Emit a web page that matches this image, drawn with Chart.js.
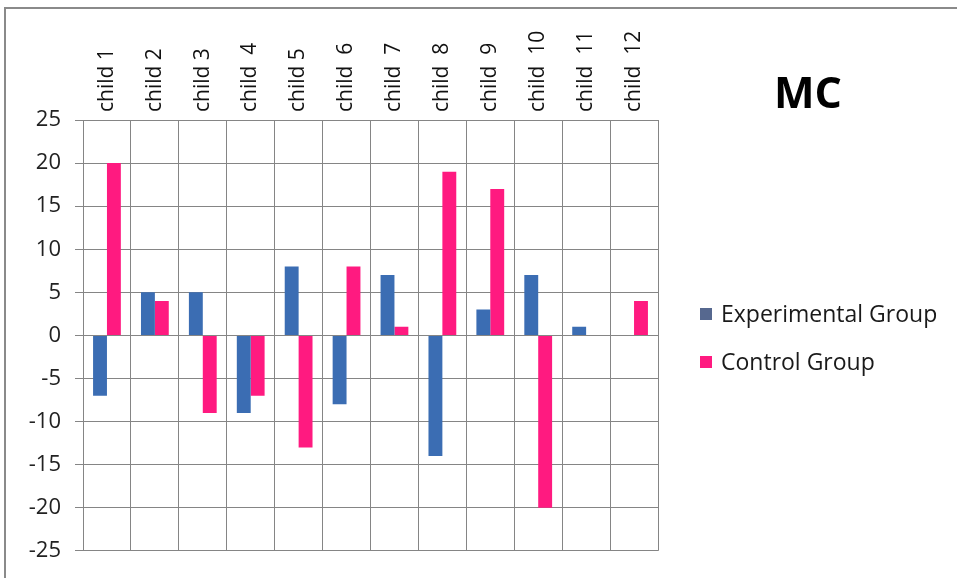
<!DOCTYPE html>
<html>
<head>
<meta charset="utf-8">
<title>MC</title>
<script src="https://cdn.jsdelivr.net/npm/chart.js@4/dist/chart.umd.min.js"></script>
<style>
  html, body { margin: 0; padding: 0; background: #ffffff; }
  #wrap { width: 957px; height: 578px; position: relative; }
</style>
</head>
<body>
<div id="wrap"><canvas id="chart" width="957" height="578"></canvas></div>
<script>
// Children and their score changes per group
const categories = ['child 1', 'child 2', 'child 3', 'child  4', 'child 5', 'child  6', 'child  7',
                    'child  8', 'child  9', 'child  10', 'child  11', 'child  12'];
const experimentalGroup = [-7, 5, 5, -9, 8, -8, 7, -14, 3, 7, 1, 0];
const controlGroup      = [20, 4, -9, -7, -13, 8, 1, 19, 17, -20, 0, 4];
const yTicks = [-25, -20, -15, -10, -5, 0, 5, 10, 15, 20, 25];
const chartTitle = 'MC';

const BLUE = '#3b6db3';
const PINK = '#ff1a80';
const GRID = '#858585';
const FONT = '"Open Sans", "Liberation Sans", sans-serif';
const CAT_FONT_SIZE = 21;

// Frame, title and legend drawn around the plot
const decorations = {
  id: 'decorations',
  beforeDraw(chart) {
    const ctx = chart.ctx;
    ctx.save();
    ctx.fillStyle = '#ffffff';
    ctx.fillRect(0, 0, chart.width, chart.height);
    ctx.strokeStyle = '#8a8a8a';
    ctx.lineWidth = 2;
    ctx.beginPath();
    ctx.moveTo(5, chart.height);
    ctx.lineTo(5, 8);
    ctx.lineTo(chart.width, 8);
    ctx.stroke();
    ctx.restore();
  },
  afterDraw(chart) {
    const ctx = chart.ctx;
    ctx.save();
    ctx.fillStyle = '#000000';
    ctx.font = 'bold 43px ' + FONT;
    ctx.textAlign = 'center';
    ctx.textBaseline = 'alphabetic';
    ctx.fillText(chartTitle, 808, 108);

    const items = chart.data.datasets.map(d => ({ label: d.label, color: d.legendColor }));
    ctx.font = '23px ' + FONT;
    ctx.textAlign = 'left';
    ctx.textBaseline = 'middle';
    items.forEach((it, i) => {
      const cy = 314 + i * 48;
      ctx.fillStyle = it.color;
      ctx.fillRect(700, cy - 6, 12, 12);
      ctx.fillStyle = '#1a1a1a';
      ctx.fillText(it.label, 721, cy + 1);
    });
    ctx.restore();
  }
};

new Chart(document.getElementById('chart'), {
  type: 'bar',
  data: {
    labels: categories,
    datasets: [
      { label: 'Experimental Group', data: experimentalGroup, backgroundColor: BLUE, legendColor: '#56688f' },
      { label: 'Control Group', data: controlGroup, backgroundColor: PINK, legendColor: PINK }
    ]
  },
  options: {
    responsive: false,
    animation: false,
    devicePixelRatio: 1,
    layout: { padding: { left: 0, top: 0, right: 299, bottom: 23 } },
    datasets: { bar: { categoryPercentage: 0.58, barPercentage: 1.0, borderWidth: 0 } },
    plugins: { legend: { display: false }, tooltip: { enabled: false }, title: { display: false } },
    scales: {
      x: {
        position: 'top',
        afterFit(scale) { scale.height = 120; },
        grid: { color: GRID, lineWidth: 1, drawTicks: false, offset: true },
        border: { color: GRID, width: 1 },
        ticks: {
          color: '#111111',
          font: { family: FONT, size: CAT_FONT_SIZE },
          minRotation: 90, maxRotation: 90,
          padding: 8,
          labelOffset: 25,
          autoSkip: false
        }
      },
      y: {
        min: -25, max: 25,
        afterFit(scale) { scale.width = 83; },
        afterBuildTicks(scale) { scale.ticks = yTicks.map(v => ({ value: v })); },
        grid: { color: GRID, lineWidth: 1, tickLength: 8 },
        border: { color: GRID, width: 1 },
        ticks: {
          color: '#222222',
          font: { family: FONT, size: 22 },
          padding: 14
        }
      }
    }
  },
  plugins: [decorations]
});
</script>
</body>
</html>
